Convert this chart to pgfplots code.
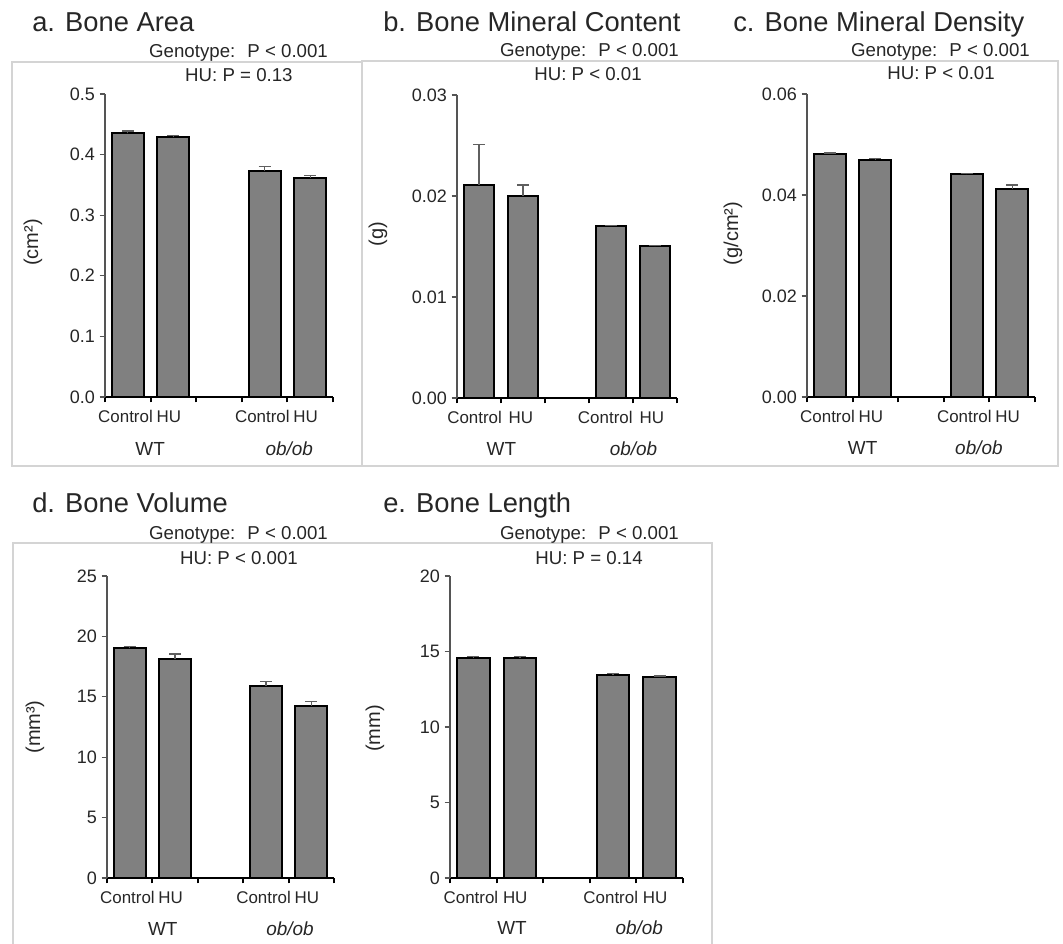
\documentclass[border=0pt]{standalone}
\usepackage{pgfplots}
\pgfplotsset{compat=1.18}
\usepackage{fontspec}
\setmainfont{Liberation Sans}
\definecolor{bargray}{RGB}{128,128,128}
\definecolor{txt}{RGB}{38,38,38}
\definecolor{framegray}{RGB}{212,212,212}
\definecolor{axgray}{RGB}{85,85,85}
\definecolor{errgray}{RGB}{95,95,95}
\newcommand\titlefont{\fontsize{20.5}{24}\selectfont}
\newcommand\pfont{\fontsize{14}{17}\selectfont}
\newcommand\ctlfont{\fontsize{12.7}{15}\selectfont}
\newcommand\grpfont{\fontsize{14.2}{17}\selectfont}
\pgfplotsset{
 bone/.style={
  scale only axis, anchor=south west, clip=false,
  xmin=0, xmax=5, ymin=0,
  axis x line=bottom, axis y line=left, axis line style={-},
  x axis line style={black, line width=1.5pt},
  y axis line style={axgray, line width=0.8pt},
  xtick={0,1,2,3,4,5}, xticklabels={},
  xtick style={black, line width=1.5pt},
  ytick style={axgray, line width=0.8pt},
  tick align=outside, major tick length=4pt,
  scaled y ticks=false,
  yticklabel style={font=\fontsize{13.5}{16}\selectfont, text=txt,
    /pgf/number format/assume math mode=true},
  ylabel style={font=\fontsize{15}{18}\selectfont, text=txt, anchor=center},
 },
 bars/.style={ybar, bar width=0.7, fill=bargray, draw=black, line width=1.5pt,
   error bars/.cd, y dir=plus, y explicit,
   error bar style={line width=1pt, draw=errgray},
   error mark options={rotate=90, line width=1pt, draw=errgray, mark size=4.5pt}},
}
\begin{document}
\begin{tikzpicture}
\path[use as bounding box] (0,0) rectangle (797.25pt,708pt);
% frames
\draw[framegray, line width=0.8pt] (9pt,661.5pt) rectangle (271.5pt,358.5pt);
\draw[framegray, line width=0.8pt] (271.5pt,662.25pt) rectangle (793.5pt,358.5pt);
\draw[framegray, line width=0.8pt] (9.75pt,0pt) -- (9.75pt,300.75pt) -- (534pt,300.75pt) -- (534pt,0pt);
% titles
\node[anchor=base west, font=\titlefont, text=txt, inner sep=0pt] at (24pt,684pt) {a. Bone Area};
\node[anchor=base west, font=\titlefont, text=txt, inner sep=0pt] at (287.25pt,684pt) {b. Bone Mineral Content};
\node[anchor=base west, font=\titlefont, text=txt, inner sep=0pt] at (549.75pt,684.5pt) {c. Bone Mineral Density};
\node[anchor=base west, font=\titlefont, text=txt, inner sep=0pt] at (24pt,323.25pt) {d. Bone Volume};
\node[anchor=base west, font=\titlefont, text=txt, inner sep=0pt] at (287.25pt,323.25pt) {e. Bone Length};
% p-values
\node[anchor=base, font=\pfont, text=txt, inner sep=0pt] at (178.9pt,664.5pt) {Genotype:~ P < 0.001};
\node[anchor=base, font=\pfont, text=txt, inner sep=0pt] at (179.2pt,646.5pt) {HU: P = 0.13};
\node[anchor=base, font=\pfont, text=txt, inner sep=0pt] at (442.1pt,665.25pt) {Genotype:~ P < 0.001};
\node[anchor=base, font=\pfont, text=txt, inner sep=0pt] at (441pt,647.25pt) {HU: P < 0.01};
\node[anchor=base, font=\pfont, text=txt, inner sep=0pt] at (705.4pt,665.25pt) {Genotype:~ P < 0.001};
\node[anchor=base, font=\pfont, text=txt, inner sep=0pt] at (705.8pt,648pt) {HU: P < 0.01};
\node[anchor=base, font=\pfont, text=txt, inner sep=0pt] at (178.9pt,303pt) {Genotype:~ P < 0.001};
\node[anchor=base, font=\pfont, text=txt, inner sep=0pt] at (179.2pt,284.25pt) {HU: P < 0.001};
\node[anchor=base, font=\pfont, text=txt, inner sep=0pt] at (442.1pt,303pt) {Genotype:~ P < 0.001};
\node[anchor=base, font=\pfont, text=txt, inner sep=0pt] at (441.8pt,284.25pt) {HU: P = 0.14};

% a. Bone Area
\begin{axis}[bone, at={(78.75pt,410.25pt)}, width=171pt, height=227.25pt,
  ymax=0.5, ytick={0,0.1,0.2,0.3,0.4,0.5},
  yticklabel style={/pgf/number format/fixed, /pgf/number format/fixed zerofill, /pgf/number format/precision=1},
  ylabel={(cm²)}, ylabel style={at={(axis description cs:-0.316,0.51)}}]
\addplot[bars] coordinates {(0.5,0.435) +- (0,0.004) (1.5,0.429) +- (0,0.003) (3.5,0.373) +- (0,0.007) (4.5,0.362) +- (0,0.004)};
\node[anchor=base, font=\ctlfont, text=txt] at ([yshift=-19pt]axis cs:0.45,0) {Control};
\node[anchor=base, font=\ctlfont, text=txt] at ([yshift=-19pt]axis cs:1.40,0) {HU};
\node[anchor=base, font=\ctlfont, text=txt] at ([yshift=-19pt]axis cs:3.45,0) {Control};
\node[anchor=base, font=\ctlfont, text=txt] at ([yshift=-19pt]axis cs:4.40,0) {HU};
\node[anchor=base, font=\grpfont, text=txt] at ([yshift=-44pt]axis cs:0.99,0) {WT};
\node[anchor=base, font=\grpfont\itshape, text=txt] at ([yshift=-44pt]axis cs:4.04,0) {ob/ob};
\end{axis}

% b. Bone Mineral Content
\begin{axis}[bone, at={(342.75pt,409.5pt)}, width=165pt, height=227.25pt,
  ymax=0.03, ytick={0,0.01,0.02,0.03},
  yticklabel style={/pgf/number format/fixed, /pgf/number format/fixed zerofill, /pgf/number format/precision=2},
  ylabel={(g)}, ylabel style={at={(axis description cs:-0.359,0.54)}}]
\addplot[bars] coordinates {(0.5,0.0211) +- (0,0.0040) (1.5,0.0200) +- (0,0.0011) (3.5,0.0170) +- (0,0.0001) (4.5,0.0150) +- (0,0.0001)};
\node[anchor=base, font=\ctlfont, text=txt] at ([yshift=-19pt]axis cs:0.40,0) {Control};
\node[anchor=base, font=\ctlfont, text=txt] at ([yshift=-19pt]axis cs:1.45,0) {HU};
\node[anchor=base, font=\ctlfont, text=txt] at ([yshift=-19pt]axis cs:3.37,0) {Control};
\node[anchor=base, font=\ctlfont, text=txt] at ([yshift=-19pt]axis cs:4.43,0) {HU};
\node[anchor=base, font=\grpfont, text=txt] at ([yshift=-43pt]axis cs:1.01,0) {WT};
\node[anchor=base, font=\grpfont\itshape, text=txt] at ([yshift=-43pt]axis cs:4.01,0) {ob/ob};
\end{axis}

% c. Bone Mineral Density
\begin{axis}[bone, at={(605.25pt,410.25pt)}, width=171pt, height=227.25pt,
  ymax=0.06, ytick={0,0.02,0.04,0.06},
  yticklabel style={/pgf/number format/fixed, /pgf/number format/fixed zerofill, /pgf/number format/precision=2},
  ylabel={(g/cm²)}, ylabel style={at={(axis description cs:-0.325,0.54)}}]
\addplot[bars] coordinates {(0.5,0.0481) +- (0,0.0002) (1.5,0.0470) +- (0,0.0002) (3.5,0.0441) +- (0,0.0002) (4.5,0.0412) +- (0,0.0008)};
\node[anchor=base, font=\ctlfont, text=txt] at ([yshift=-19pt]axis cs:0.45,0) {Control};
\node[anchor=base, font=\ctlfont, text=txt] at ([yshift=-19pt]axis cs:1.40,0) {HU};
\node[anchor=base, font=\ctlfont, text=txt] at ([yshift=-19pt]axis cs:3.45,0) {Control};
\node[anchor=base, font=\ctlfont, text=txt] at ([yshift=-19pt]axis cs:4.40,0) {HU};
\node[anchor=base, font=\grpfont, text=txt] at ([yshift=-43.5pt]axis cs:1.22,0) {WT};
\node[anchor=base, font=\grpfont\itshape, text=txt] at ([yshift=-43.5pt]axis cs:3.77,0) {ob/ob};
\end{axis}

% d. Bone Volume
\begin{axis}[bone, at={(80.25pt,49.5pt)}, width=170.25pt, height=226.5pt,
  ymax=25, ytick={0,5,10,15,20,25},
  ylabel={(mm³)}, ylabel style={at={(axis description cs:-0.317,0.50)}}]
\addplot[bars] coordinates {(0.5,19.0) +- (0,0.15) (1.5,18.1) +- (0,0.45) (3.5,15.9) +- (0,0.35) (4.5,14.25) +- (0,0.35)};
\node[anchor=base, font=\ctlfont, text=txt] at ([yshift=-19pt]axis cs:0.45,0) {Control};
\node[anchor=base, font=\ctlfont, text=txt] at ([yshift=-19pt]axis cs:1.40,0) {HU};
\node[anchor=base, font=\ctlfont, text=txt] at ([yshift=-19pt]axis cs:3.45,0) {Control};
\node[anchor=base, font=\ctlfont, text=txt] at ([yshift=-19pt]axis cs:4.40,0) {HU};
\node[anchor=base, font=\grpfont, text=txt] at ([yshift=-43pt]axis cs:1.23,0) {WT};
\node[anchor=base, font=\grpfont\itshape, text=txt] at ([yshift=-43pt]axis cs:4.03,0) {ob/ob};
\end{axis}

% e. Bone Length
\begin{axis}[bone, at={(337.5pt,49.5pt)}, width=174.75pt, height=226.5pt,
  ymax=20, ytick={0,5,10,15,20},
  ylabel={(mm)}, ylabel style={at={(axis description cs:-0.322,0.495)}}]
\addplot[bars] coordinates {(0.5,14.6) +- (0,0.08) (1.5,14.6) +- (0,0.08) (3.5,13.45) +- (0,0.08) (4.5,13.3) +- (0,0.08)};
\node[anchor=base, font=\ctlfont, text=txt] at ([yshift=-19pt]axis cs:0.45,0) {Control};
\node[anchor=base, font=\ctlfont, text=txt] at ([yshift=-19pt]axis cs:1.40,0) {HU};
\node[anchor=base, font=\ctlfont, text=txt] at ([yshift=-19pt]axis cs:3.45,0) {Control};
\node[anchor=base, font=\ctlfont, text=txt] at ([yshift=-19pt]axis cs:4.40,0) {HU};
\node[anchor=base, font=\grpfont, text=txt] at ([yshift=-42.75pt]axis cs:1.33,0) {WT};
\node[anchor=base, font=\grpfont\itshape, text=txt] at ([yshift=-42.75pt]axis cs:4.06,0) {ob/ob};
\end{axis}
\end{tikzpicture}
\end{document}
